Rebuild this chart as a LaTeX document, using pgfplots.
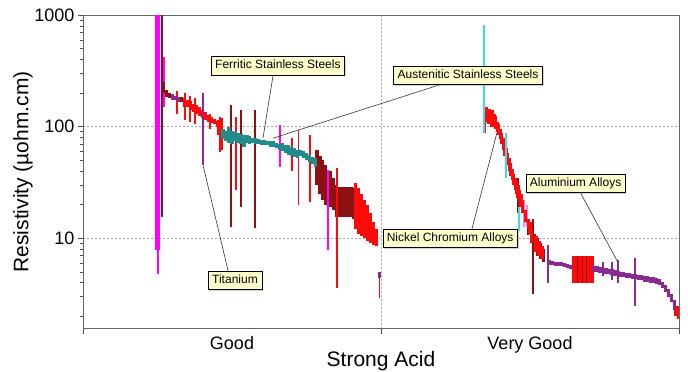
\documentclass[border=0pt]{standalone}
\usepackage{fontspec}
\setmainfont{Liberation Sans}
\usepackage{pgfplots}
\pgfplotsset{compat=1.18}
\usetikzlibrary{shadows}
\definecolor{cMag}{HTML}{FF00FF}
\definecolor{cPink}{HTML}{FF80FF}
\definecolor{cDred}{HTML}{8C1212}
\definecolor{cRed}{HTML}{FF0A0A}
\definecolor{cTeal}{HTML}{228B8B}
\definecolor{cPur}{HTML}{8A2A90}
\definecolor{cCyan}{HTML}{30E0F0}
\definecolor{cBox}{HTML}{FFFFCC}
\pgfplotsset{
  rng/.style 2 args={mark=none, draw=none, forget plot,
    /pgfplots/table/x=x, /pgfplots/table/y=lo,
    /pgfplots/table/y error plus expr={\thisrow{hi}-\thisrow{lo}},
    error bars/.cd, y dir=plus, y explicit, error mark=none,
    error bar style={draw=#1, line width=#2, solid}},
}
\tikzset{
  box/.style={draw=black, line width=0.5pt, fill=cBox, inner xsep=4pt, inner ysep=3.5pt,
    text height=9pt, text depth=2.5pt, font=\fontsize{12}{14}\selectfont,
    drop shadow={shadow xshift=1.2pt, shadow yshift=-1.2pt, opacity=0.35}},
  ann/.style={draw=black!80, line width=0.6pt},
}
\begin{document}
\begin{tikzpicture}
\begin{axis}[
  scale only axis, width=596pt, height=313.6pt,
  ymode=log, xmin=0, xmax=2, ymin=1.55, ymax=1000,
  xtick={0,1,2}, xticklabels={},
  extra x ticks={0.5,1.5}, extra x tick labels={Good,Very Good},
  extra x tick style={grid=none, major tick length=0pt, xticklabel style={yshift=-4pt}},
  xmajorgrids, ymajorgrids,
  ytick={10,100,1000}, yticklabels={10,100,1000},
  minor ytick={2,3,4,5,6,7,8,9,20,30,40,50,60,70,80,90,200,300,400,500,600,700,800,900},
  xtick pos=left, ytick pos=left, tick align=outside,
  major tick length=5pt, minor tick length=3pt,
  tick style={black!70, line width=0.7pt},
  major grid style={gray!70, line width=0.6pt, dash pattern=on 2pt off 2pt},
  minor grid style={draw=none},
  axis line style={black!60, line width=0.9pt},
  ticklabel style={font=\fontsize{18}{20}\selectfont},
  xlabel={Strong Acid}, ylabel={Resistivity (µohm.cm)},
  every axis x label/.style={at={(axis description cs:0.5,-0.1036)}, anchor=center,
    font=\fontsize{21}{24}\selectfont},
  every axis y label/.style={at={(axis description cs:-0.1007,0.5)}, anchor=center, rotate=90,
    font=\fontsize{21}{24}\selectfont},
]
% magenta wide
\addplot[rng={cMag}{5pt}] table {
x lo hi
0.251 7.9 2000
};
% magenta thin
\addplot[rng={cMag}{2pt}] table {
x lo hi
0.251 4.8 7.9
0.273 150 420
0.661 44 104
0.822 7.8 41
0.987 9.1 11.7
};
% pink
\addplot[rng={cPink}{2.5pt}] table {
x lo hi
1.480 12.6 22
1.490 13 20
};
% dark red thin
\addplot[rng={cDred}{1.8pt}] table {
x lo hi
0.266 15.5 2000
0.497 12.6 156
0.530 19 141
0.577 12.4 141
1.460 17 35
1.493 10.7 14.6
1.510 3.2 15
};
% dark red band
\addplot[rng={cDred}{3.2pt}] table {
x lo hi
0.270 200 250
0.280 185 215
0.290 180 200
0.330 165 185
0.785 30 62
0.795 25 55
0.805 22 50
0.815 20 45
0.830 19 40
0.840 18 35
0.850 15.5 30
0.860 15.5 29
0.870 15.5 29
0.880 15.5 29
0.890 15.5 29
0.900 15.5 29
0.908 15 28
1.515 8 11
1.525 7 10
1.535 6.5 9
1.545 6.2 8
};
% red band
\addplot[rng={cRed}{3.2pt}] table {
x lo hi
0.340 150 180
0.350 150 175
0.360 140 170
0.370 135 160
0.380 130 155
0.390 125 150
0.400 120 140
0.410 115 135
0.420 110 128
0.430 108 122
0.440 105 118
0.450 100 112
0.460 96 108
0.915 12 31
0.925 11 28
0.935 10.5 25
0.945 10 22
0.955 9.5 20
0.965 9 17
0.975 8.7 14
0.985 8.5 12
1.355 110 150
1.360 105 140
1.365 110 145
1.370 100 135
1.375 105 140
1.380 100 130
1.385 95 125
1.390 90 110
1.395 85 105
1.400 78 95
1.405 70 88
1.410 62 80
1.415 55 72
1.420 50 65
1.425 45 58
1.430 40 52
1.435 36 47
1.440 33 42
1.445 30 38
1.450 27 35
1.455 25 32
1.460 23 30
1.465 21 27
1.470 19 25
1.475 17 22
1.485 14 18
1.495 12 15
1.500 11 14
1.505 9 12
1.520 7.5 10.5
1.530 7 9.5
1.540 6.5 8.5
1.645 4.0 7.0
1.655 4.0 7.0
1.665 4.0 7.0
1.675 4.0 7.0
1.685 4.0 7.0
1.695 4.0 7.0
1.705 4.0 7.0
1.710 4.0 7.0
1.990 2.0 2.5
};
% red thin
\addplot[rng={cRed}{1.8pt}] table {
x lo hi
0.315 130 210
0.342 115 200
0.359 110 190
0.376 105 180
0.426 95 130
0.453 85 115
0.460 59 122
0.467 62 120
0.513 27 122
0.700 40 80
0.723 20 93
0.762 21 84
0.852 3.6 43
0.995 2.9 4.5
1.350 88 150
1.997 1.9 2.5
};
% dark red hairlines in red block
\addplot[rng={cDred}{0.8pt}] table {
x lo hi
1.660 4.0 7.0
1.675 4.0 7.0
1.690 4.0 7.0
};
% teal band
\addplot[rng={cTeal}{3.2pt}] table {
x lo hi
0.470 78 95
0.480 75 92
0.490 72 100
0.500 70 92
0.510 75 90
0.520 72 88
0.530 70 86
0.540 66 85
0.550 72 84
0.560 70 82
0.570 72 80
0.580 70 80
0.590 70 78
0.600 68 76
0.610 69 76
0.620 68 75
0.630 66 74
0.640 66 74
0.650 64 72
0.660 62 70
0.670 60 72
0.680 58 68
0.690 56 68
0.700 55 66
0.710 54 64
0.720 52 62
0.730 55 62
0.740 52 60
0.750 50 58
0.760 48 56
0.770 46 54
0.780 44 52
};
% purple band
\addplot[rng={cPur}{3.2pt}] table {
x lo hi
0.300 175 195
0.310 172 190
0.320 168 186
0.995 4.4 5.0
1.565 5.8 6.4
1.575 5.8 6.3
1.585 5.7 6.2
1.595 5.7 6.2
1.605 5.6 6.1
1.615 5.5 6.0
1.625 5.4 5.9
1.635 5.3 5.8
1.715 5.0 5.6
1.725 5.0 5.6
1.735 4.9 5.5
1.745 4.9 5.4
1.755 4.8 5.4
1.765 4.8 5.3
1.775 4.7 5.3
1.785 4.6 5.2
1.795 4.6 5.1
1.805 4.5 5.0
1.815 4.5 5.0
1.825 4.4 4.9
1.835 4.4 4.9
1.845 4.3 4.8
1.855 4.3 4.8
1.865 4.2 4.7
1.875 4.2 4.7
1.885 4.1 4.6
1.895 4.1 4.6
1.905 4.0 4.5
1.915 4.0 4.5
1.925 3.9 4.4
1.935 3.8 4.3
1.945 3.6 4.1
1.955 3.3 3.8
1.965 3.0 3.5
1.975 2.7 3.2
1.985 2.3 2.8
};
% purple thin
\addplot[rng={cPur}{1.8pt}] table {
x lo hi
0.403 45 200
1.560 4.0 8.7
1.745 4.6 6.2
1.775 4.2 6.1
1.795 4.0 6.4
1.852 2.5 6.7
};
% cyan
\addplot[rng={cCyan}{1.8pt}] table {
x lo hi
1.346 88 815
1.419 35 88
1.463 11.7 19
};
% annotations
\draw[ann] (axis cs:0.638,290) -- (axis cs:0.604,79);
\draw[ann] (axis cs:0.638,79) -- (axis cs:1.205,241);
\draw[ann] (axis cs:0.487,5.1) -- (axis cs:0.403,45);
\draw[ann] (axis cs:1.389,88) -- (axis cs:1.305,12.1);
\draw[ann] (axis cs:1.668,26) -- (axis cs:1.795,6.1);
\node[box] at (axis cs:0.654,353) {Ferritic Stainless Steels};
\node[box] at (axis cs:1.292,290) {Austenitic Stainless Steels};
\node[box] at (axis cs:0.510,4.19) {Titanium};
\node[box] at (axis cs:1.232,10) {Nickel Chromium Alloys};
\node[box] at (axis cs:1.653,31) {Aluminium Alloys};
\end{axis}
\pgfresetboundingbox
\path[use as bounding box] ([xshift=-83pt,yshift=-43.3pt]current axis.south west) rectangle ([xshift=9pt,yshift=15.1pt]current axis.north east);
\end{tikzpicture}
\end{document}
